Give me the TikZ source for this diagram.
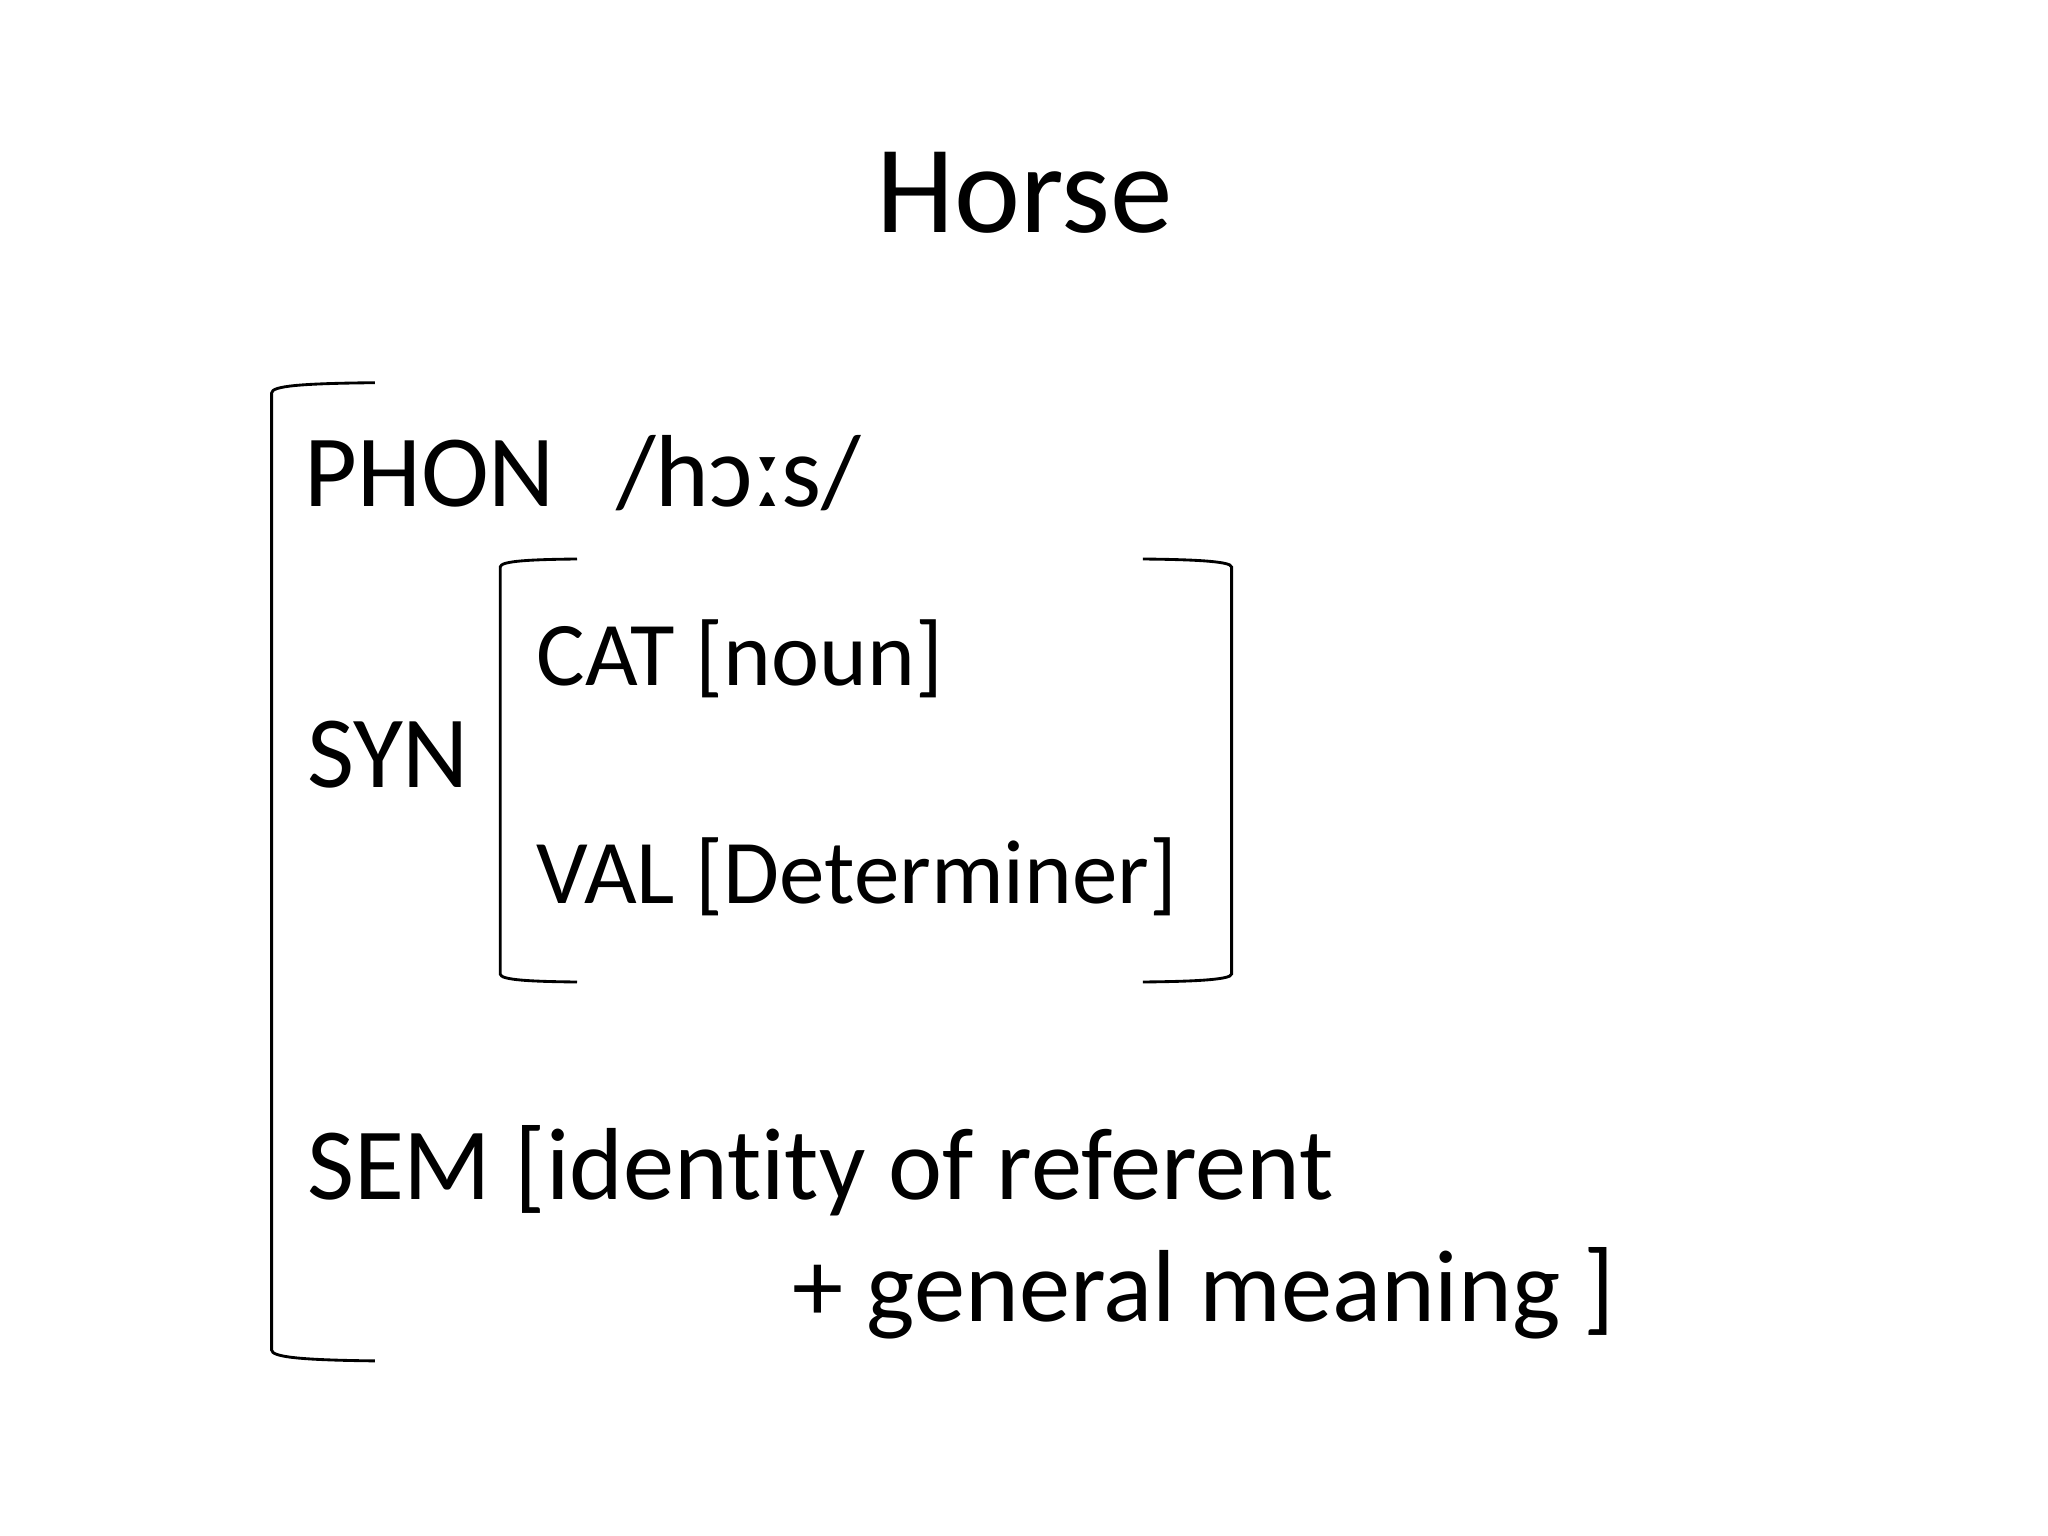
\documentclass[tikz,border=0pt]{standalone}
\usepackage{fontspec}
\setmainfont[Ligatures=NoCommon]{Carlito}
\begin{document}
\begin{tikzpicture}[x=0.3515625pt,y=-0.3515625pt,
  txt/.style={anchor=base west,inner sep=0pt,outer sep=0pt},
  big/.style={txt,font=\fontsize{36}{43}\selectfont},
  mid/.style={txt,font=\fontsize{32}{38}\selectfont},
  brk/.style={line width=1pt,black}]
\useasboundingbox[fill=white] (0,0) rectangle (2048,1536);
\node[anchor=base,inner sep=0pt,font=\fontsize{44}{53}\selectfont] (title) at (1024.6,232.5) {Horse};
% outer bracket
\draw[brk] (374.8,382.7) .. controls (300,383.5) and (271.6,386) .. (271.6,393) -- (271.6,1350) .. controls (271.6,1357) and (300,1360) .. (374.8,1360.9);
\node[big] (phon) at (304.3,506.7) {PHON};
\node[big] (phval) at (616.4,506.7) {/hɔːs/};
\node[big] (syn) at (307,787.5) {SYN};
% inner bracket
\draw[brk] (577,559) .. controls (530,559.5) and (500.2,561) .. (500.2,567) -- (500.2,974) .. controls (500.2,980) and (530,981.5) .. (577,982);
\draw[brk] (1142.8,559) .. controls (1190,559.5) and (1231.6,561) .. (1231.6,567) -- (1231.6,974) .. controls (1231.6,980) and (1190,981.5) .. (1142.8,982);
\node[mid] (cat) at (536.8,685.6) {CAT [noun]};
\node[mid] (val) at (536.8,903.8) {VAL [Determiner]};
\node[big] (sem) at (307,1199) {SEM [identity of referent};
\node[big] (sem2) at (792.7,1321.7) {+ general meaning ]};
\end{tikzpicture}
\end{document}
